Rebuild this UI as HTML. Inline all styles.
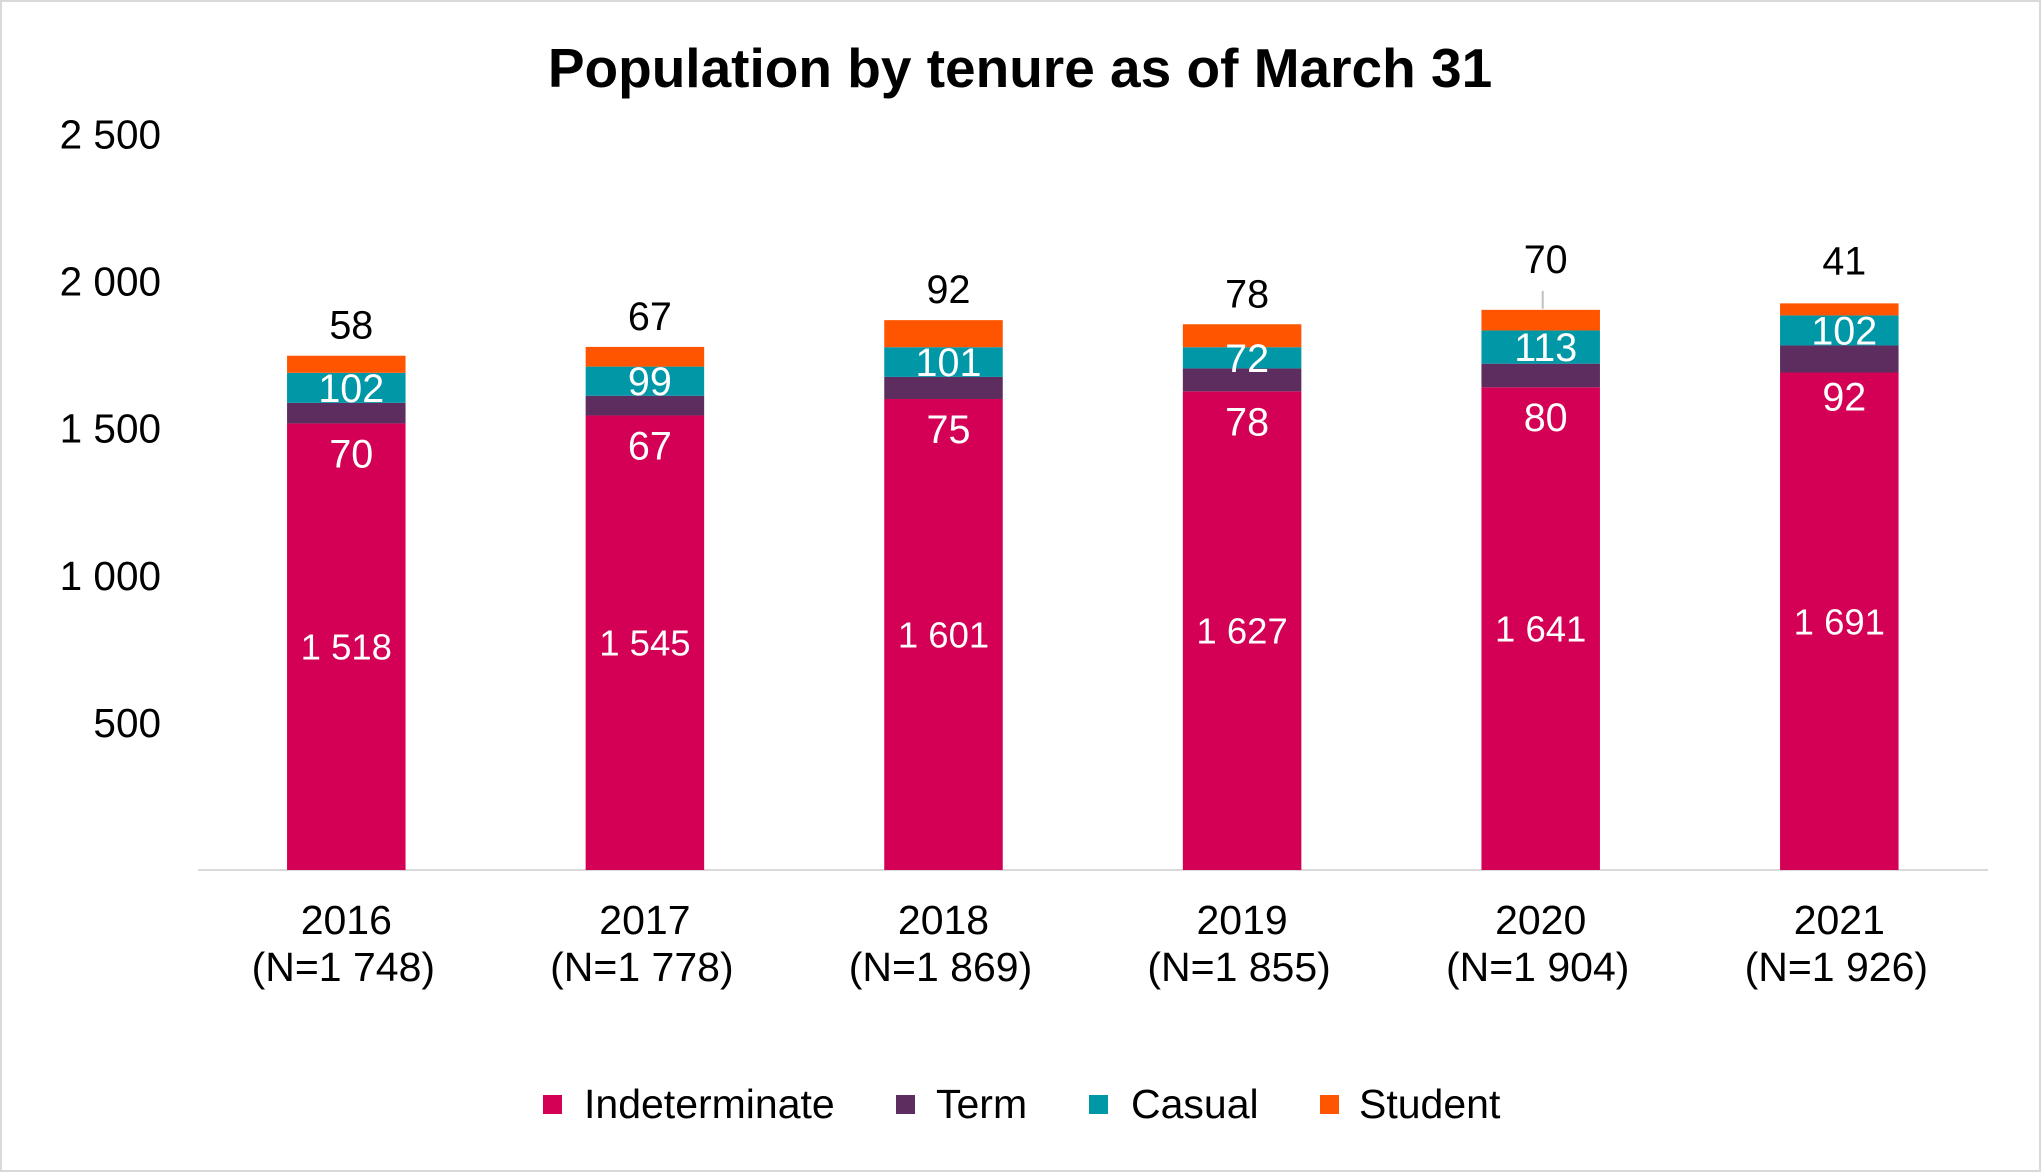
<!DOCTYPE html>
<html><head><meta charset="utf-8">
<style>
html,body{margin:0;padding:0;background:#fff;}
svg{display:block;font-family:"Liberation Sans",Arial,sans-serif;}
</style></head>
<body>
<svg id="chart" width="2041" height="1172" viewBox="0 0 2041 1172" xmlns="http://www.w3.org/2000/svg">
<rect x="1" y="1" width="2039" height="1170" fill="#fff" stroke="#d9d9d9" stroke-width="2"/>
<text x="1020" y="87" text-anchor="middle" font-size="55" font-weight="bold" fill="#000">Population by tenure as of March 31</text>
<g id="yticks"></g>
<line x1="198" y1="870" x2="1988" y2="870" stroke="#d9d9d9" stroke-width="2"/>
<g id="bars"></g>
<g id="legend">
<rect x="543" y="1095" width="19" height="19" fill="#D40055"/>
<text x="584" y="1118" font-size="41" fill="#000">Indeterminate</text>
<rect x="896" y="1095" width="19" height="19" fill="#5C2D5E"/>
<text x="936" y="1118" font-size="41" fill="#000">Term</text>
<rect x="1089" y="1095" width="19" height="19" fill="#0097A7"/>
<text x="1131" y="1118" font-size="41" fill="#000">Casual</text>
<rect x="1320" y="1095" width="19" height="19" fill="#FF5500"/>
<text x="1359" y="1118" font-size="41" fill="#000">Student</text>
</g>
</svg>
<script>
const categories = ["2016","2017","2018","2019","2020","2021"];
const totals = ["1 748","1 778","1 869","1 855","1 904","1 926"];
const indeterminate = [1518,1545,1601,1627,1641,1691];
const term = [70,67,75,78,80,92];
const casual = [102,99,101,72,113,102];
const student = [58,67,92,78,70,41];
const yTicks = [500,1000,1500,2000,2500];
const yTickLabels = ["500","1 000","1 500","2 000","2 500"];

const NS = "http://www.w3.org/2000/svg";
const y0 = 870, pxPerUnit = 147.1/500;
function yScale(v){ return y0 - v*pxPerUnit; }
const firstCenter = 346.3, step = 298.6, barW = 118.5;
function xScale(i){ return firstCenter + i*step; }
function fmt(n){ return n>=1000 ? Math.floor(n/1000)+" "+String(n%1000).padStart(3,"0") : String(n); }
function mk(tag, attrs, parent){ const e=document.createElementNS(NS,tag); for(const k in attrs) e.setAttribute(k,attrs[k]); parent.appendChild(e); return e; }

const yg = document.getElementById('yticks');
yTicks.forEach((v,i)=>{
  const t = mk('text',{x:161,y:yScale(v)+14,'text-anchor':'end','font-size':40.5,fill:'#000'},yg);
  
  
  t.textContent = yTickLabels[i];
});

const bg = document.getElementById('bars');
const series = [
  {name:'indeterminate', vals:indeterminate, color:'#D40055'},
  {name:'term', vals:term, color:'#5C2D5E'},
  {name:'casual', vals:casual, color:'#0097A7'},
  {name:'student', vals:student, color:'#FF5500'}
];
categories.forEach((c,i)=>{
  const cx = xScale(i);
  let cum = 0;
  const tops = [];
  series.forEach(s=>{
    const v = s.vals[i];
    const yTop = yScale(cum+v), yBot = yScale(cum);
    const r = mk('rect',{x:cx-barW/2,y:yTop,width:barW,height:yBot-yTop,fill:s.color},bg);
    
    
    tops.push([yTop,yBot]);
    cum += v;
  });
  let t = mk('text',{x:cx,y:(tops[0][0]+tops[0][1])/2+13,'text-anchor':'middle','font-size':36.5,fill:'#fff'},bg);
  
  
  t.textContent = fmt(indeterminate[i]);
  t = mk('text',{x:cx+5,y:tops[0][0]+44 - (i===5?6:0),'text-anchor':'middle','font-size':39.5,fill:'#fff'},bg);
  
  
  t.textContent = fmt(term[i]);
  t = mk('text',{x:cx+5,y:(tops[2][0]+tops[2][1])/2+14,'text-anchor':'middle','font-size':39.5,fill:'#fff'},bg);
  
  
  t.textContent = fmt(casual[i]);
  const raised = (i===4);
  const sy = tops[3][0] - (raised ? 51 : (i===5 ? 43 : 31));
  if(raised){
    const ln = mk('line',{x1:cx+2,y1:tops[3][0]-19,x2:cx+2,y2:tops[3][0]-1,stroke:'#bfbfbf','stroke-width':2},bg);
    
    
  }
  t = mk('text',{x:cx+5,y:sy+14,'text-anchor':'middle','font-size':39.5,fill:'#000'},bg);
  
  
  t.textContent = fmt(student[i]);
  t = mk('text',{x:cx,y:934,'text-anchor':'middle','font-size':41,fill:'#000'},bg);
  
  
  t.textContent = c;
  t = mk('text',{x:cx-3,y:981,'text-anchor':'middle','font-size':41,fill:'#000'},bg);
  
  
  t.textContent = "(N="+totals[i]+")";
});
</script>
</body></html>
